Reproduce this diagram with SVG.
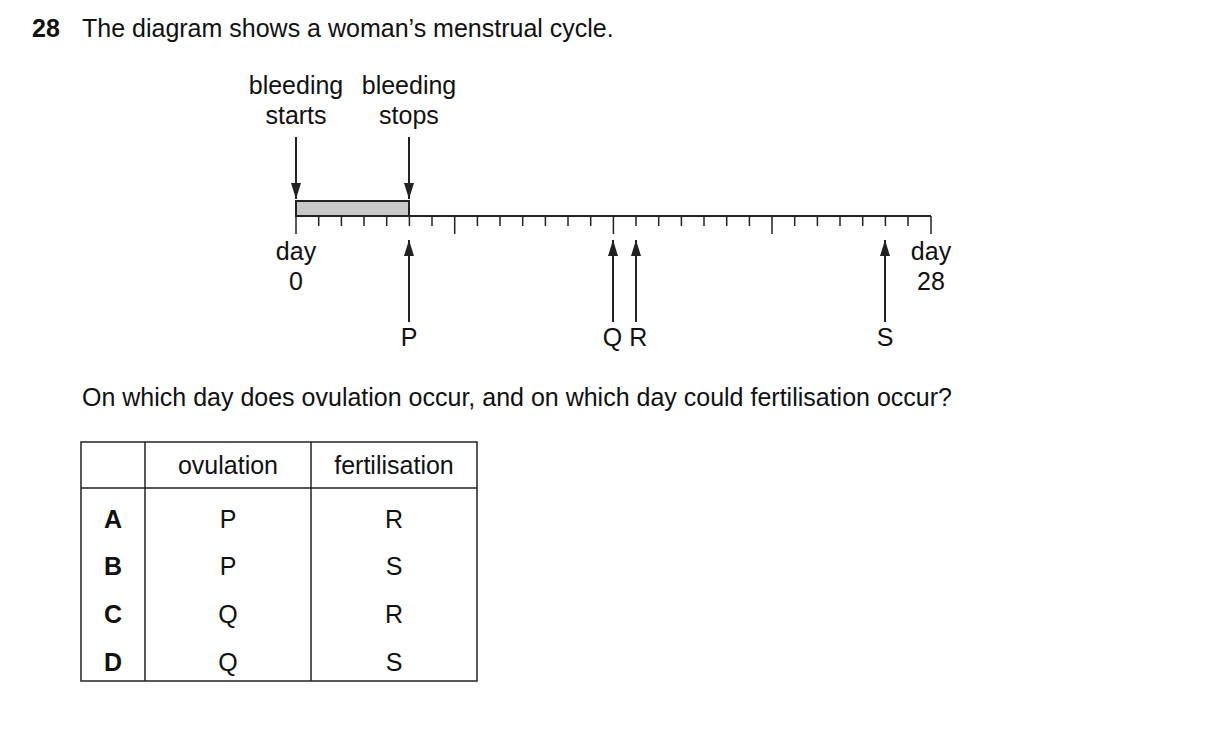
<svg xmlns="http://www.w3.org/2000/svg" width="1209" height="732" viewBox="0 0 1209 732">
<style>
text{font-family:"Liberation Sans",Arial,sans-serif;font-size:25px;fill:#111}
.c{text-anchor:middle}
.b{font-weight:bold}
.l{stroke:#222;stroke-width:2;fill:none}
.t{stroke:#222;stroke-width:1.5}
</style>
<defs><marker id="ah" markerWidth="16" markerHeight="10" refX="16" refY="5" orient="auto" markerUnits="userSpaceOnUse" viewBox="0 0 16 10"><path d="M0,0 L16,5 L0,10 Z" fill="#222"/></marker></defs>
<rect width="1209" height="732" fill="#fff"/>
<text x="32" y="37" class="b">28</text>
<text x="82" y="37">The diagram shows a woman’s menstrual cycle.</text>
<g id="labels">
<text x="296" y="94" class="c">bleeding</text><text x="296" y="124" class="c">starts</text>
<text x="409" y="94" class="c">bleeding</text><text x="409" y="124" class="c">stops</text>
<text x="296" y="260" class="c">day</text><text x="296" y="290" class="c">0</text>
<text x="931" y="260" class="c">day</text><text x="931" y="290" class="c">28</text>
<text x="409" y="346" class="c">P</text>
<text x="625" y="346" class="c">Q R</text>
<text x="885" y="346" class="c">S</text>
</g>
<g id="timeline">
<rect x="296" y="201" width="113" height="15" fill="#c8c8c8" stroke="#222" stroke-width="2"/>
<line x1="296" y1="216" x2="931" y2="216" class="l"/>
<path class="t" d="M296,216V234M318.7,216V226M341.4,216V226M364,216V226M386.7,216V226M409.4,216V226M432,216V226M454.7,216V234M477.4,216V226M500,216V226M522.7,216V226M545.4,216V226M568,216V226M590.7,216V226M613.4,216V234M636,216V226M658.7,216V226M681.4,216V226M704,216V226M726.7,216V226M749.4,216V226M772,216V234M794.7,216V226M817.4,216V226M840,216V226M862.7,216V226M885.4,216V226M908,216V226M931,216V234"/>
</g>
<g id="connectors" class="l">
<line x1="296" y1="137" x2="296" y2="199" marker-end="url(#ah)"/>
<line x1="409" y1="137" x2="409" y2="199" marker-end="url(#ah)"/>
<line x1="409" y1="322" x2="409" y2="240" marker-end="url(#ah)"/>
<line x1="613" y1="322" x2="613" y2="240" marker-end="url(#ah)"/>
<line x1="636" y1="322" x2="636" y2="240" marker-end="url(#ah)"/>
<line x1="885" y1="322" x2="885" y2="240" marker-end="url(#ah)"/>
</g>
<text x="82" y="406">On which day does ovulation occur, and on which day could fertilisation occur?</text>
<g id="table">
<rect x="81" y="442" width="396" height="239" fill="none" stroke="#222" stroke-width="1.5"/>
<line x1="145" y1="442" x2="145" y2="681" class="t"/>
<line x1="311" y1="442" x2="311" y2="681" class="t"/>
<line x1="81" y1="488" x2="477" y2="488" class="t"/>
<text x="228" y="474" class="c">ovulation</text><text x="394" y="474" class="c">fertilisation</text>
<text x="113" y="528" class="c b">A</text><text x="228" y="528" class="c">P</text><text x="394" y="528" class="c">R</text>
<text x="113" y="575" class="c b">B</text><text x="228" y="575" class="c">P</text><text x="394" y="575" class="c">S</text>
<text x="113" y="623" class="c b">C</text><text x="228" y="623" class="c">Q</text><text x="394" y="623" class="c">R</text>
<text x="113" y="671" class="c b">D</text><text x="228" y="671" class="c">Q</text><text x="394" y="671" class="c">S</text>
</g>
</svg>
